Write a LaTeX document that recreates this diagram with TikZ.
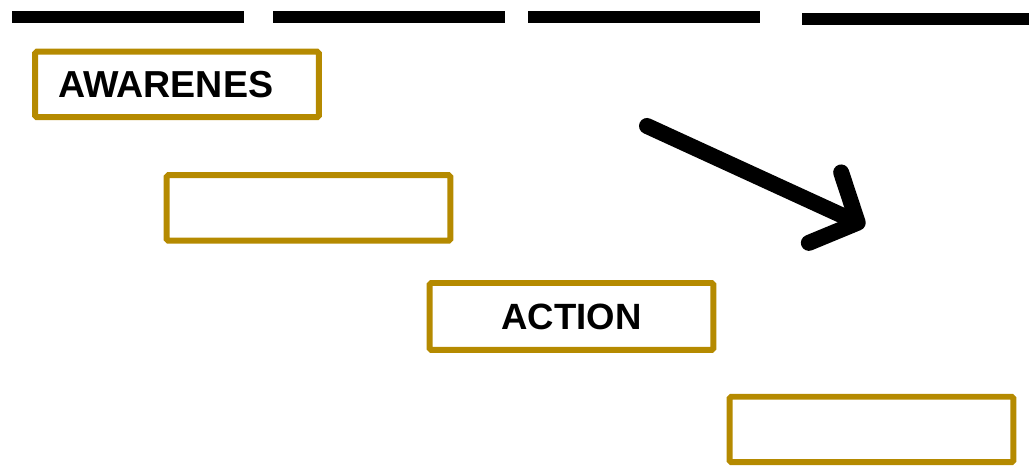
\documentclass[tikz,border=0pt]{standalone}
\usepackage{fontspec}
\setmainfont{Liberation Sans}
\usetikzlibrary{arrows.meta}
\definecolor{gold}{RGB}{181,138,0}
\tikzset{
stage/.style={draw=gold, line width=0.12cm, rounded corners=1pt,
  minimum width=5.68cm, minimum height=1.31cm, inner sep=0pt,
  font=\fontsize{20.8}{25}\selectfont\bfseries},
dashbar/.style={line width=0.24cm, line cap=butt}
}

\begin{document}
\begin{tikzpicture}[x=0.02cm, y=-0.02cm]
\useasboundingbox (0,0) rectangle (1029,475);

\foreach \xa/\xb/\y [count=\i] in {12/244/17, 273/505/17.5, 528/760/17.3, 802/1029/19.5}{
  \draw[dashbar] (\xa,\y) -- (\xb,\y);
}

\node[stage, inner xsep=0.46cm, text width=4.76cm, align=left, font=\fontsize{21.4}{25}\selectfont\bfseries] (s1) at (177,84.5) {AWARENES};
\node[stage] (s2) at (308.5,208) {};
\node[stage, minimum height=1.34cm] (s3) at (571.5,316.5) {ACTION};
\node[stage] (s4) at (871.5,429.5) {};

\coordinate (tail) at (647,126);
\coordinate (tip) at (865,226);
\draw[line width=0.32cm, line cap=round, -{Straight Barb[length=0.72cm, width=1.55cm, round]}] (tail) -- (tip);
\end{tikzpicture}
\end{document}
